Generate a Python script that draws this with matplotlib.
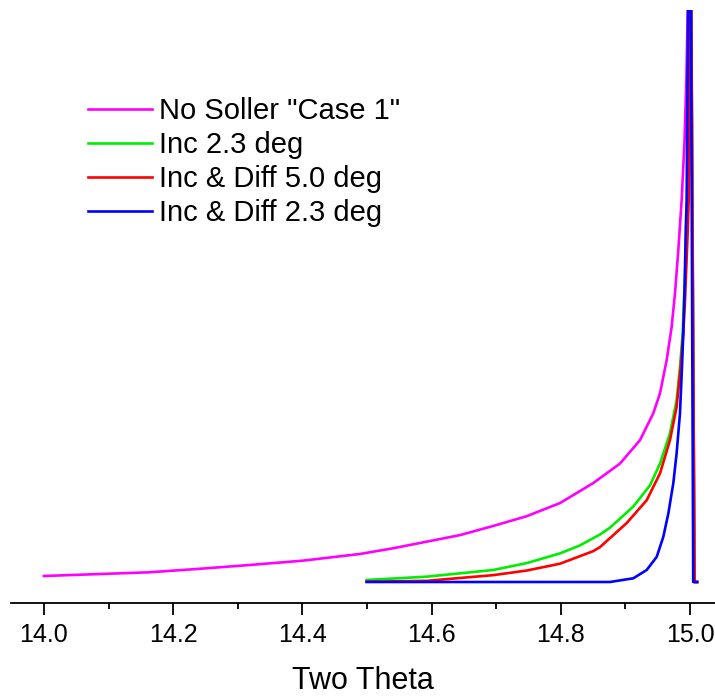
import matplotlib
matplotlib.use('Agg')
import matplotlib.pyplot as plt
from matplotlib.ticker import MultipleLocator

plt.rcParams['font.family'] = ['Liberation Sans', 'DejaVu Sans']

# profile traces (two theta, intensity in arbitrary units; spike runs off the top)
no_soller_x = [14.0, 14.164, 14.24, 14.318, 14.40, 14.4892, 14.5407, 14.5924,
               14.644, 14.6955, 14.7472, 14.7988, 14.8503, 14.8916, 14.9226,
               14.9432, 14.9536, 14.9639, 14.9716, 14.9768, 14.9819, 14.9871,
               14.9915, 14.9945, 14.9965, 15.0, 15.007, 15.011]
no_soller_y = [1.05, 1.7, 2.3, 2.97, 3.72, 4.9, 5.9, 7.05,
               8.2, 9.8, 11.5, 13.8, 17.3, 20.7, 24.8,
               29.5, 33.0, 38.8, 44.6, 50.5, 58.0, 66.8,
               77.0, 88.3, 100.0, 140.0, 0.0, 0.0]

inc23_x = [14.4995, 14.5924, 14.6955, 14.7472, 14.7988, 14.8297, 14.8607,
           14.8762, 14.9123, 14.9381, 14.9536, 14.969, 14.9793, 14.9845,
           14.9886, 14.9907, 14.9928, 14.9948, 14.9969, 14.9985, 15.0,
           15.007, 15.011]
inc23_y = [0.35, 0.93, 2.1, 3.3, 5.0, 6.4, 8.3,
           9.5, 13.2, 16.9, 20.7, 26.0, 31.8, 37.6,
           43.5, 49.3, 55.1, 61.0, 66.8, 100.0, 140.0,
           0.0, 0.0]

incdiff50_x = [14.4995, 14.5924, 14.6955, 14.7472, 14.7988, 14.8503, 14.8607,
               14.902, 14.933, 14.9536, 14.969, 14.9793, 14.9855, 14.9896,
               14.9923, 14.9943, 14.9964, 14.998, 14.999, 15.0, 15.007, 15.011]
incdiff50_y = [0.05, 0.2, 1.2, 2.0, 3.2, 5.4, 6.1,
               10.3, 14.3, 19.0, 24.8, 30.6, 37.6, 43.5,
               49.3, 55.1, 61.0, 66.8, 100.0, 140.0, 0.0, 0.0]

incdiff23_x = [14.4995, 14.8762, 14.9123, 14.933, 14.9485, 14.9587, 14.9665,
               14.9742, 14.9793, 14.9845, 14.9876, 14.9896, 14.9918, 14.9933,
               14.9948, 14.997, 15.0, 15.005, 15.011]
incdiff23_y = [0.0, 0.0, 0.65, 2.1, 4.4, 7.9, 12.0,
               17.3, 22.5, 29.5, 37.6, 43.5, 52.2, 61.0,
               66.8, 100.0, 140.0, 0.0, 0.0]

series = [
    (no_soller_x, no_soller_y, '#ff00ff', 'No Soller "Case 1"'),
    (inc23_x, inc23_y, '#00ee00', 'Inc 2.3 deg'),
    (incdiff50_x, incdiff50_y, '#ff0000', 'Inc & Diff 5.0 deg'),
    (incdiff23_x, incdiff23_y, '#0000ff', 'Inc & Diff 2.3 deg'),
]

W, H = 715, 698
fig = plt.figure(figsize=(W / 100, H / 100), dpi=100)
ax = fig.add_axes([11 / W, 1 - 602.7 / H, 1 - 11 / W, (602.7 - 10) / H])

for xs, ys, col, lab in series:
    ax.plot(xs, ys, color=col, lw=1.9, label=lab, solid_joinstyle='round')

ax.set_xlim(13.949, 15.0387)
ax.set_ylim(-3.62, 100)

for s in ('left', 'right', 'top'):
    ax.spines[s].set_visible(False)
ax.spines['bottom'].set_linewidth(1.3)
ax.set_yticks([])
ax.xaxis.set_major_locator(MultipleLocator(0.2))
ax.xaxis.set_minor_locator(MultipleLocator(0.1))
ax.xaxis.set_major_formatter(lambda v, pos: f'{v:.1f}')
ax.tick_params(axis='x', which='major', direction='out', length=8.6, width=1.3,
               labelsize=18, pad=6)
ax.tick_params(axis='x', which='minor', direction='out', length=4.3, width=1.3)
ax.set_xlabel('Two Theta', fontsize=22, labelpad=14)

ax.legend(loc='upper left', bbox_to_anchor=(88 / W, 1 - 97 / H),
          bbox_transform=fig.transFigure, frameon=False, fontsize=21,
          handlelength=2.2, handletextpad=0.25, labelspacing=0.21,
          borderpad=0, borderaxespad=0)

fig.savefig('out.png', dpi=100)
